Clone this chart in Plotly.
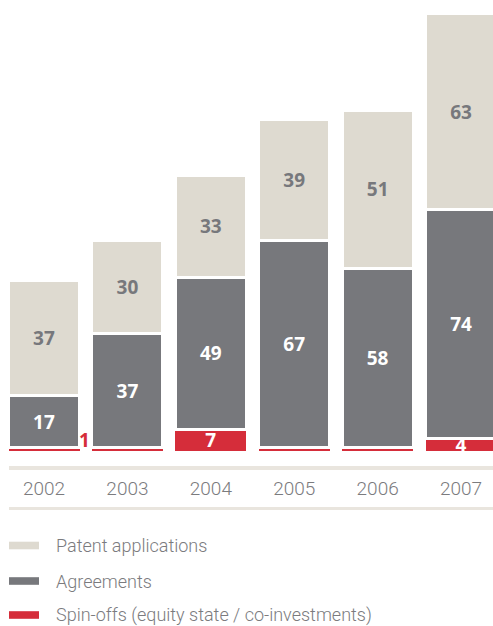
import plotly.graph_objects as go

years = ["2002", "2003", "2004", "2005", "2006", "2007"]
patents = [37, 30, 33, 39, 51, 63]
agreements = [17, 37, 49, 67, 58, 74]
spinoffs = [1, 1, 7, 1, 1, 4]
spin_labels = ["", "", "7", "", "", "4"]
legend_names = ["Patent applications", "Agreements", "Spin-offs (equity state / co-investments)"]

BEIGE = "#dedad0"
GREY = "#77787c"
RED = "#d52d3a"
TXT = "#7b7b7e"

W, H = 493, 626
PB = 451  # plot bottom pixel


def py(p):
    return (PB - p) / PB


def px(p):
    return p / W


bold = dict(family="Open Sans", size=19, weight="bold")

fig = go.Figure()
fig.add_bar(x=years, y=spinoffs, name=legend_names[2], marker_color=RED,
            marker_line=dict(color="white", width=0),
            text=spin_labels, textposition="inside", insidetextanchor="middle", textangle=0,
            textfont=dict(color="white", **bold))
fig.add_bar(x=years, y=agreements, name=legend_names[1], marker_color=GREY,
            marker_line=dict(color="white", width=3),
            text=agreements, textposition="inside", insidetextanchor="middle", textangle=0,
            textfont=dict(color="white", **bold))
fig.add_bar(x=years, y=patents, name=legend_names[0], marker_color=BEIGE,
            marker_line=dict(color="white", width=3),
            text=patents, textposition="inside", insidetextanchor="middle", textangle=0,
            textfont=dict(color=GREY, **bold))

# outside label of the first spin-off bar (category index 0)
fig.add_annotation(x=0, y=0, xref="x", yref="y", text="<b>%d</b>" % spinoffs[0],
                   showarrow=False, xanchor="center", yanchor="bottom", xshift=40, yshift=-4,
                   font=dict(color=RED, **bold))

shapes = [
    dict(type="rect", xref="paper", yref="paper", x0=px(9), x1=1, y0=py(466), y1=py(470),
         fillcolor="#e9e5de", line=dict(width=0)),
    dict(type="rect", xref="paper", yref="paper", x0=px(9), x1=1, y0=py(507), y1=py(510),
         fillcolor="#e9e5de", line=dict(width=0)),
]
legend_rows = [(BEIGE, 545.5), (GREY, 581), (RED, 615)]
for (col, yc), name in zip(legend_rows, legend_names):
    shapes.append(dict(type="rect", xref="paper", yref="paper", x0=px(9), x1=px(39),
                       y0=py(yc - 3.8), y1=py(yc + 3.8), fillcolor=col, line=dict(width=0)))
    fig.add_annotation(x=px(54), y=py(yc), xref="paper", yref="paper", text=name,
                       showarrow=False, xanchor="left", yanchor="middle",
                       font=dict(family="Roboto", size=18, color=TXT, weight=300))

fig.update_layout(
    width=W, height=H, barmode="stack", bargap=0.149,
    margin=dict(l=0, r=0, t=0, b=H - PB, pad=0),
    plot_bgcolor="white", paper_bgcolor="white", showlegend=False,
    shapes=shapes,
    uniformtext=dict(minsize=19, mode="show"),
    xaxis=dict(type="category", range=[-0.528, 5.383], showgrid=False, showline=False,
               zeroline=False, ticks="", ticklabelstandoff=24,
               tickfont=dict(family="Roboto", size=19, color=TXT, weight=300)),
    yaxis=dict(range=[0, 145.5], visible=False, showgrid=False),
)

fig.write_html("out.html", config={"displayModeBar": False},
               post_script="document.body.style.margin='0';document.body.style.overflow='hidden';")
